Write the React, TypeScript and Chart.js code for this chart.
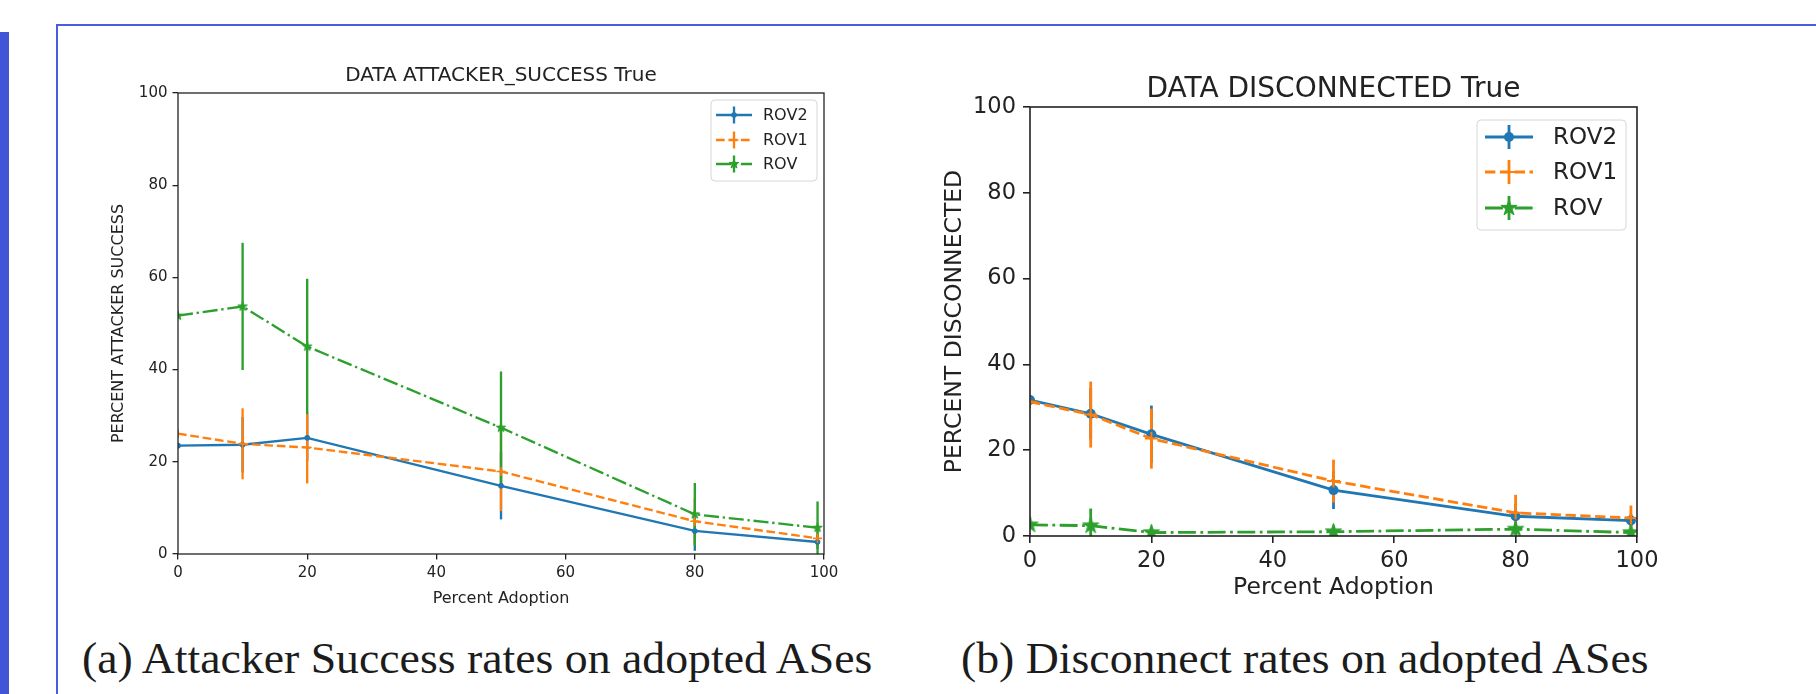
import React, { useEffect, useRef } from "react";
import { Chart, registerables } from "chart.js";

Chart.register(...registerables);

// ---------------- data ----------------
const adoption = [0, 10, 20, 50, 80, 99];
const seriesNames = ["ROV2", "ROV1", "ROV"];

// (a) attacker success
const atkROV2 = [23.5, 23.7, 25.2, 14.8, 5.0, 2.6];
const atkROV2Err = [null, 6.0, 5.0, 7.3, 4.3, 1.5];
const atkROV1 = [26.1, 23.9, 23.1, 17.9, 7.1, 3.4];
const atkROV1Err = [null, 7.7, 7.8, 8.6, 5.0, 2.0];
const atkROV = [51.7, 53.7, 45.0, 27.4, 8.6, 5.7];
const atkROVErr = [null, 13.8, 14.7, 12.2, 6.8, 5.7];

// (b) disconnected
const disROV2 = [31.7, 28.5, 23.7, 10.7, 4.6, 3.6];
const disROV2Err = [null, 6.0, 6.7, 4.4, 3.0, 1.5];
const disROV1 = [31.3, 28.3, 22.7, 12.8, 5.4, 4.2];
const disROV1Err = [null, 7.7, 7.0, 5.0, 4.2, 2.9];
const disROV = [2.6, 2.4, 0.8, 1.0, 1.6, 0.8];
const disROVErr = [null, 4.0, 1.0, 1.2, 1.5, 1.0];

const axisMin = 0;
const axisMax = 100;
const tickStep = 20;

const COLORS = ["#1f77b4", "#ff7f0e", "#2ca02c"];
const MARKERS = ["circle", "cross", "star"];
const DASHES = ["solid", "dashed", "dashdot"];
const FONT = "'DejaVu Sans', 'Liberation Sans', sans-serif";
const TEXT = "#222222";

function dashFor(kind: string, lw: number): number[] {
  if (kind === "dashed") return [3.7 * lw, 1.6 * lw];
  if (kind === "dashdot") return [6.4 * lw, 1.6 * lw, lw, 1.6 * lw];
  return [];
}

function starPath(ctx: CanvasRenderingContext2D, cx: number, cy: number, R: number) {
  const r = R * 0.381966;
  ctx.beginPath();
  for (let i = 0; i < 10; i++) {
    const rad = i % 2 === 0 ? R : r;
    const a = -Math.PI / 2 + (i * Math.PI) / 5;
    const x = cx + rad * Math.cos(a);
    const y = cy + rad * Math.sin(a);
    if (i === 0) ctx.moveTo(x, y);
    else ctx.lineTo(x, y);
  }
  ctx.closePath();
}

function makeStarCanvas(R: number, color: string) {
  const size = Math.ceil(2 * R + 4);
  const c = document.createElement("canvas");
  c.width = size;
  c.height = size;
  const ctx = c.getContext("2d")!;
  starPath(ctx, size / 2, size / 2, R);
  ctx.fillStyle = color;
  ctx.fill();
  ctx.strokeStyle = color;
  ctx.lineWidth = 1;
  ctx.stroke();
  return c;
}

function drawMarker(
  ctx: CanvasRenderingContext2D,
  kind: string,
  x: number,
  y: number,
  m: any,
  color: string
) {
  ctx.save();
  ctx.setLineDash([]);
  ctx.fillStyle = color;
  ctx.strokeStyle = color;
  if (kind === "circle") {
    ctx.beginPath();
    ctx.arc(x, y, m.circleR, 0, Math.PI * 2);
    ctx.fill();
  } else if (kind === "cross") {
    ctx.lineWidth = m.crossW;
    ctx.beginPath();
    ctx.moveTo(x - m.crossR, y);
    ctx.lineTo(x + m.crossR, y);
    ctx.moveTo(x, y - m.crossR);
    ctx.lineTo(x, y + m.crossR);
    ctx.stroke();
  } else {
    starPath(ctx, x, y, m.legendStarR);
    ctx.fill();
    ctx.lineWidth = 1;
    ctx.stroke();
  }
  ctx.restore();
}

type Spec = {
  title: string;
  xLabel: string;
  yLabel: string;
  values: number[][];
  errors: (number | null)[][];
  width: number;
  height: number;
  padTop: number;
  padRight: number;
  yAxisW: number;
  xAxisH: number;
  titleX: number;
  titleY: number;
  titleSize: number;
  tickSize: number;
  tickLen: number;
  tickPad: number;
  xTickPad: number;
  labelSize: number;
  yTitlePad: number;
  xTitlePad: number;
  lw: number;
  spineW: number;
  marker: { circleR: number; crossR: number; crossW: number; starR: number; legendStarR: number };
  legend: {
    x: number;
    y: number;
    w: number;
    h: number;
    rows: number[];
    lineX0: number;
    lineX1: number;
    markerX: number;
    textX: number;
    font: number;
    errHalf: number;
  };
};

const specA: Spec = {
  title: "DATA ATTACKER_SUCCESS True",
  xLabel: "Percent Adoption",
  yLabel: "PERCENT ATTACKER SUCCESS",
  values: [atkROV2, atkROV1, atkROV],
  errors: [atkROV2Err, atkROV1Err, atkROVErr],
  width: 760,
  height: 590,
  padTop: 52,
  padRight: 36,
  yAxisW: 78,
  xAxisH: 77,
  titleX: 401,
  titleY: 34.5,
  titleSize: 20,
  tickSize: 15,
  tickLen: 5.5,
  tickPad: 5,
  xTickPad: 5,
  labelSize: 16,
  yTitlePad: 9,
  xTitlePad: 23,
  lw: 2.35,
  spineW: 1.3,
  marker: { circleR: 2.8, crossR: 4.5, crossW: 1.6, starR: 5, legendStarR: 5 },
  legend: {
    x: 611,
    y: 59,
    w: 106,
    h: 81,
    rows: [74, 99, 123],
    lineX0: 616,
    lineX1: 652,
    markerX: 634,
    textX: 663,
    font: 16,
    errHalf: 8.5,
  },
};

const specB: Spec = {
  title: "DATA DISCONNECTED True",
  xLabel: "Percent Adoption",
  yLabel: "PERCENT DISCONNECTED",
  values: [disROV2, disROV1, disROV],
  errors: [disROV2Err, disROV1Err, disROVErr],
  width: 800,
  height: 580,
  padTop: 55,
  padRight: 63,
  yAxisW: 130,
  xAxisH: 96,
  titleX: 433.5,
  titleY: 37.5,
  titleSize: 28,
  tickSize: 22.5,
  tickLen: 7,
  tickPad: 7,
  xTickPad: 5,
  labelSize: 23.5,
  yTitlePad: 41,
  xTitlePad: 30,
  lw: 2.8,
  spineW: 1.6,
  marker: { circleR: 5, crossR: 6.5, crossW: 2, starR: 8.5, legendStarR: 8.5 },
  legend: {
    x: 577,
    y: 68,
    w: 149,
    h: 110,
    rows: [85, 120, 156],
    lineX0: 585,
    lineX1: 633,
    markerX: 609,
    textX: 653,
    font: 23,
    errHalf: 12,
  },
};

function buildConfig(spec: Spec): any {
  const datasets = spec.values.map((vals, i) => {
    const kind = MARKERS[i];
    return {
      label: seriesNames[i],
      data: adoption.map((x, j) => ({ x, y: vals[j] })),
      errorBars: spec.errors[i],
      borderColor: COLORS[i],
      backgroundColor: COLORS[i],
      borderWidth: spec.lw,
      borderDash: dashFor(DASHES[i], spec.lw),
      tension: 0,
      fill: false,
      pointStyle: kind === "star" ? makeStarCanvas(spec.marker.starR, COLORS[i]) : kind,
      pointRadius: kind === "circle" ? spec.marker.circleR : spec.marker.crossR,
      pointBackgroundColor: COLORS[i],
      pointBorderColor: COLORS[i],
      pointBorderWidth: kind === "cross" ? spec.marker.crossW : 0,
      order: 3 - i,
      clip: 0,
    };
  });

  const tickFont = { family: FONT, size: spec.tickSize };
  const labelFont = { family: FONT, size: spec.labelSize, lineHeight: 1.2 };
  const gridCfg = {
    display: true,
    drawOnChartArea: false,
    drawTicks: true,
    tickLength: spec.tickLen,
    color: TEXT,
    lineWidth: spec.spineW,
  };

  const panelPlugin = {
    id: "panel",
    beforeDatasetsDraw(chart: any) {
      const { ctx, chartArea } = chart;
      const xs = chart.scales.x;
      const ys = chart.scales.y;
      ctx.save();
      ctx.beginPath();
      ctx.rect(chartArea.left, chartArea.top, chartArea.right - chartArea.left, chartArea.bottom - chartArea.top);
      ctx.clip();
      chart.data.datasets.forEach((ds: any) => {
        ctx.strokeStyle = ds.borderColor;
        ctx.lineWidth = spec.lw;
        ctx.setLineDash([]);
        ds.data.forEach((p: any, j: number) => {
          const e = ds.errorBars[j];
          if (e == null) return;
          const px = xs.getPixelForValue(p.x);
          ctx.beginPath();
          ctx.moveTo(px, ys.getPixelForValue(p.y - e));
          ctx.lineTo(px, ys.getPixelForValue(p.y + e));
          ctx.stroke();
        });
      });
      ctx.restore();
    },
    afterDatasetsDraw(chart: any) {
      const { ctx, chartArea } = chart;
      ctx.save();
      ctx.strokeStyle = TEXT;
      ctx.lineWidth = spec.spineW;
      ctx.setLineDash([]);
      ctx.strokeRect(chartArea.left, chartArea.top, chartArea.right - chartArea.left, chartArea.bottom - chartArea.top);
      ctx.restore();
    },
    afterDraw(chart: any) {
      const { ctx } = chart;
      ctx.save();
      ctx.fillStyle = TEXT;
      ctx.font = `${spec.titleSize}px ${FONT}`;
      ctx.textAlign = "center";
      ctx.textBaseline = "middle";
      ctx.fillText(spec.title, spec.titleX, spec.titleY);
      ctx.restore();

      const L = spec.legend;
      ctx.save();
      ctx.beginPath();
      const r = 4;
      ctx.moveTo(L.x + r, L.y);
      ctx.arcTo(L.x + L.w, L.y, L.x + L.w, L.y + L.h, r);
      ctx.arcTo(L.x + L.w, L.y + L.h, L.x, L.y + L.h, r);
      ctx.arcTo(L.x, L.y + L.h, L.x, L.y, r);
      ctx.arcTo(L.x, L.y, L.x + L.w, L.y, r);
      ctx.closePath();
      ctx.fillStyle = "rgba(255,255,255,0.8)";
      ctx.fill();
      ctx.strokeStyle = "#d6d6d6";
      ctx.lineWidth = 1;
      ctx.stroke();

      chart.data.datasets.forEach((ds: any, i: number) => {
        const y = L.rows[i];
        const color = COLORS[i];
        ctx.strokeStyle = color;
        ctx.lineWidth = spec.lw;
        ctx.setLineDash([]);
        ctx.beginPath();
        ctx.moveTo(L.markerX, y - L.errHalf);
        ctx.lineTo(L.markerX, y + L.errHalf);
        ctx.stroke();
        ctx.setLineDash(dashFor(DASHES[i], spec.lw));
        ctx.beginPath();
        ctx.moveTo(L.lineX0, y);
        ctx.lineTo(L.lineX1, y);
        ctx.stroke();
        ctx.setLineDash([]);
        drawMarker(ctx, MARKERS[i], L.markerX, y, spec.marker, color);
        ctx.fillStyle = TEXT;
        ctx.font = `${L.font}px ${FONT}`;
        ctx.textAlign = "left";
        ctx.textBaseline = "middle";
        ctx.fillText(ds.label, L.textX, y + 1);
      });
      ctx.restore();
    },
  };

  return {
    type: "line",
    data: { datasets },
    options: {
      responsive: false,
      maintainAspectRatio: false,
      animation: false,
      devicePixelRatio: 1,
      layout: { padding: { top: spec.padTop, right: spec.padRight, left: 0, bottom: 0 } },
      plugins: {
        legend: { display: false },
        title: { display: false },
        tooltip: { enabled: false },
      },
      scales: {
        x: {
          type: "linear",
          min: axisMin,
          max: axisMax,
          border: { display: false },
          grid: gridCfg,
          ticks: { stepSize: tickStep, font: tickFont, color: TEXT, padding: spec.xTickPad, maxRotation: 0 },
          title: {
            display: true,
            text: spec.xLabel,
            font: labelFont,
            color: TEXT,
            padding: { top: 0, bottom: spec.xTitlePad },
          },
          afterFit: (s: any) => {
            s.height = spec.xAxisH;
          },
        },
        y: {
          type: "linear",
          min: axisMin,
          max: axisMax,
          border: { display: false },
          grid: gridCfg,
          ticks: { stepSize: tickStep, font: tickFont, color: TEXT, padding: spec.tickPad },
          title: {
            display: true,
            text: spec.yLabel,
            font: labelFont,
            color: TEXT,
            padding: { top: spec.yTitlePad, bottom: 0 },
          },
          afterFit: (s: any) => {
            s.width = spec.yAxisW;
          },
        },
      },
    },
    plugins: [panelPlugin],
  };
}

function Panel({ spec, left, top }: { spec: Spec; left: number; top: number }) {
  const ref = useRef<HTMLCanvasElement | null>(null);
  useEffect(() => {
    if (!ref.current) return;
    const chart = new Chart(ref.current, buildConfig(spec));
    return () => chart.destroy();
  }, [spec]);
  return (
    <canvas
      ref={ref}
      width={spec.width}
      height={spec.height}
      style={{ position: "absolute", left, top, width: spec.width, height: spec.height }}
    />
  );
}

const captionStyle: React.CSSProperties = {
  position: "absolute",
  fontFamily: "'Liberation Serif', 'DejaVu Serif', serif",
  fontSize: 44,
  lineHeight: "44px",
  color: "#1c1c1c",
  whiteSpace: "nowrap",
  transform: "scaleX(1.04)",
  transformOrigin: "0 0",
};

export default function App() {
  return (
    <div
      style={{
        position: "fixed",
        left: 0,
        top: 0,
        width: 1816,
        height: 694,
        background: "#ffffff",
        overflow: "hidden",
      }}
    >
      <div style={{ position: "absolute", left: 0, top: 32, width: 9, height: 662, background: "#4254d8" }} />
      <div style={{ position: "absolute", left: 56, top: 24, width: 1760, height: 2, background: "#4a5cde" }} />
      <div style={{ position: "absolute", left: 56, top: 24, width: 2, height: 670, background: "#4a5cde" }} />
      <Panel spec={specA} left={100} top={41} />
      <Panel spec={specB} left={900} top={52} />
      <div style={{ ...captionStyle, left: 82, top: 637 }}>(a) Attacker Success rates on adopted ASes</div>
      <div style={{ ...captionStyle, left: 961, top: 637 }}>(b) Disconnect rates on adopted ASes</div>
    </div>
  );
}
